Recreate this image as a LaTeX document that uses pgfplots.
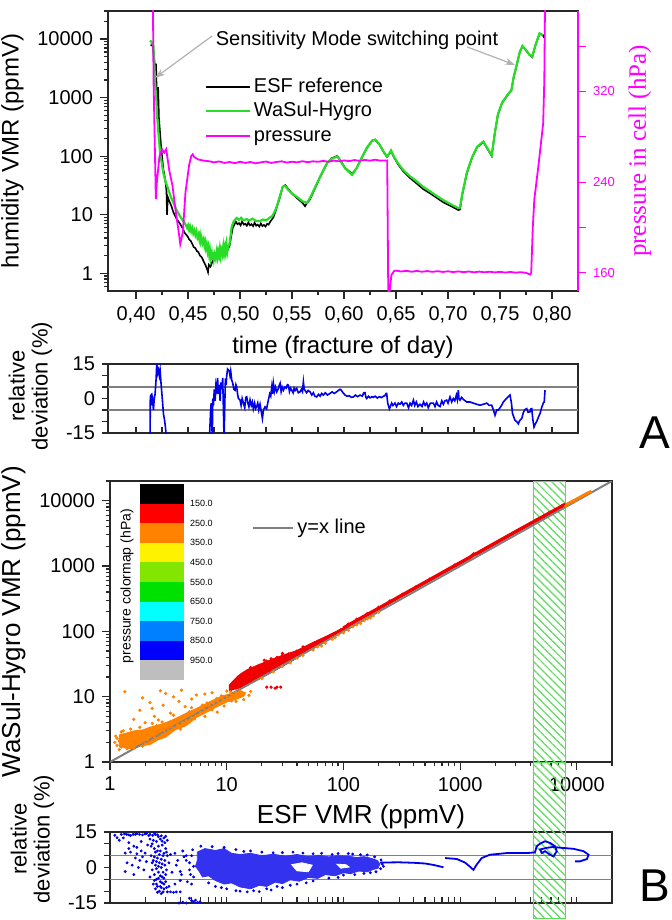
\documentclass[border=0pt]{standalone}
\usepackage{fontspec}
\setmainfont{Liberation Sans}
\newfontfamily\seriffont{Liberation Serif}
\usepackage{pgfplots}
\pgfplotsset{compat=1.18}
\usetikzlibrary{arrows.meta,patterns.meta}
\definecolor{wgreen}{RGB}{40,220,40}
\definecolor{pmag}{RGB}{255,0,255}
\definecolor{dblue}{RGB}{0,0,235}
\definecolor{sorange}{RGB}{255,130,0}
\definecolor{sred}{RGB}{240,0,0}
\definecolor{hgreen}{RGB}{90,220,90}
\definecolor{frame}{RGB}{40,40,40}
\definecolor{cbyg}{RGB}{130,230,0}
\definecolor{cbg}{RGB}{0,225,0}
\definecolor{cbc}{RGB}{0,255,255}
\definecolor{cblb}{RGB}{0,128,255}
\definecolor{cbb}{RGB}{0,0,255}
\definecolor{cbgr}{RGB}{190,190,190}
\pgfplotsset{
  every axis/.append style={
    scale only axis,
    axis line style={frame, line width=0.7pt},
    /pgf/number format/assume math mode=true,
    tick label style={font=\fontsize{10}{12}\selectfont},
    major tick length=4pt, minor tick length=2pt,
    tick style={frame, line width=0.6pt},
  },
}
\begin{document}
\begin{tikzpicture}
\path[use as bounding box] (0,0) rectangle (335.5pt,-460pt);

%================ A: time series =================
\begin{axis}[
  at={(54pt,-5.5pt)}, anchor=north west, width=235pt, height=140pt,
  xmin=0.373, xmax=0.825, ymode=log, ymin=0.5, ymax=30000,
  xtick={0.40,0.45,0.50,0.55,0.60,0.65,0.70,0.75,0.80}, minor x tick num=1,
  xticklabel={\pgfmathprintnumber[fixed,fixed zerofill,precision=2,use comma]{\tick}},
  ytick={1,10,100,1000,10000}, yticklabels={1,10,100,1000,10000},
  minor ytick={0.6,0.7,0.8,0.9,2,3,4,5,6,7,8,9,20,30,40,50,60,70,80,90,200,300,400,500,600,700,800,900,2000,3000,4000,5000,6000,7000,8000,9000,20000,30000},
  tick align=outside, xtick pos=bottom, ytick pos=left,
  xlabel={time (fracture of day)}, ylabel={humidity VMR (ppmV)},
  label style={font=\fontsize{12}{14}\selectfont},
  legend style={draw=none, fill=none, at={(0.205,0.775)}, anchor=north west, inner sep=0pt,
    font=\fontsize{10}{12}\selectfont, row sep=0pt,
    nodes={inner sep=1.5pt, text height=7.3pt, text depth=2pt}},
  legend image code/.code={\draw[#1] (0pt,0pt) -- (22pt,0pt);},
  legend cell align=left,
]
\addplot[black, line width=0.8pt] coordinates {
(0.4140,8000)(0.4160,7600)(0.4175,4500)(0.4185,2600)(0.4192,3800)(0.4200,900)(0.4206,500)(0.4212,1500)(0.4220,450)(0.4240,150)(0.4262,60)(0.4280,40)(0.4292,26)(0.4298,10)(0.4305,20)(0.4320,17)(0.4340,14)(0.4359,11)(0.4390,8.5)(0.4423,7)
(0.4450,5.8)(0.4465,5.0)(0.4480,4.6)(0.4495,4.3)(0.4510,3.8)(0.4525,3.6)(0.4540,3.2)(0.4555,2.8)(0.4570,2.7)(0.4585,2.4)(0.4600,2.3)(0.4615,2.0)(0.4630,1.9)(0.4650,1.6)(0.4670,1.35)(0.4685,1.15)(0.4692,1.05)(0.4700,1.4)(0.4715,1.3)(0.4735,1.6)(0.4760,1.8)(0.4790,1.9)(0.4820,2.1)(0.4850,2.2)(0.4880,2.5)(0.4900,3.0)(0.4915,4.3)(0.4930,6.0)(0.4960,7.6)(0.4975,6.9)(0.4990,7.2)(0.5005,6.6)(0.5020,7.7)(0.5035,6.8)(0.5050,7.0)(0.5065,6.5)(0.5080,7.4)(0.5095,6.6)(0.5110,6.9)(0.5125,6.4)(0.5140,7.3)(0.5155,6.5)(0.5170,6.8)(0.5185,6.3)(0.5200,7.1)(0.5215,6.4)(0.5230,6.7)(0.5245,6.3)(0.5260,7.0)(0.5275,6.8)(0.5290,7.6)(0.5320,9.0)(0.5345,12)
(0.5380,19)(0.5410,30)(0.5435,32)(0.5460,28)(0.5500,23)(0.5550,19)(0.5600,16)(0.5625,14)(0.5640,15.5)(0.5670,18)(0.5720,28)(0.5770,44)(0.5837,76)(0.5880,92)(0.5935,101)(0.5970,82)(0.6010,63)(0.6077,50)(0.6120,62)(0.6170,93)(0.6220,138)(0.6270,182)(0.6300,190)(0.6340,158)(0.6380,118)(0.6413,97)(0.6440,112)(0.6452,122)(0.6480,96)(0.6520,72)(0.6570,55)(0.6630,43)(0.6700,34)(0.6760,27.5)(0.6830,23)(0.6890,19.5)(0.6950,16.5)(0.7030,14)(0.7100,12)(0.7115,12.3)
(0.7135,21)(0.7160,34)(0.7180,50)(0.7230,93)(0.7280,142)(0.7340,174)(0.7380,132)(0.7420,101)(0.7450,245)(0.7480,510)(0.7520,810)(0.7570,1080)(0.7610,1330)(0.7630,2150)(0.7660,3550)(0.7690,5900)(0.7715,7500)(0.7740,6700)(0.7780,5400)(0.7810,4900)(0.7840,7700)(0.7880,12300)(0.7910,11800)(0.7925,10500)
};
\addlegendentry{ESF reference}
\addplot[wgreen, line width=1.1pt] coordinates {
(0.4135,9500)(0.4150,8700)(0.4166,7800)(0.4175,4000)(0.4183,1800)(0.4195,900)(0.4205,420)(0.4215,250)(0.4231,113)(0.4245,80)(0.4263,51)(0.4285,36)(0.4311,27)(0.4335,20)(0.4359,16)(0.4390,12)(0.4423,9.4)(0.4450,8.0)(0.4470,7.2)(0.4490,6.0)
(0.4500,6.6)(0.4510,5.5)(0.4519,6.3)(0.4530,5.2)(0.4540,5.9)(0.4550,4.8)(0.4560,5.4)(0.4570,4.5)(0.4580,5.2)(0.4590,4.1)(0.4600,4.6)(0.4608,3.8)(0.4615,4.5)(0.4623,3.5)(0.4630,4.0)(0.4640,3.3)(0.4650,3.8)(0.4658,3.0)(0.4665,3.4)(0.4672,2.7)(0.4680,3.1)(0.4688,2.4)(0.4695,2.8)(0.4703,2.1)(0.4710,2.5)(0.4718,1.8)(0.4728,2.2)(0.4734,1.7)(0.4740,2.3)(0.4748,1.75)(0.4755,2.1)(0.4765,1.8)(0.4776,2.4)(0.4783,1.9)(0.4790,2.3)(0.4797,2.0)(0.4805,2.6)(0.4812,2.0)(0.4820,2.5)(0.4830,2.1)(0.4839,2.9)(0.4847,2.2)(0.4855,2.8)(0.4862,2.3)(0.4870,3.1)(0.4878,2.4)(0.4885,2.9)(0.4897,3.1)(0.4910,4.5)(0.4920,6.3)(0.4940,7.8)(0.4968,8.8)(0.4990,8.2)(0.5010,8.9)(0.5030,8.1)(0.5064,8.4)(0.5090,8.0)(0.5120,8.6)(0.5150,7.9)(0.5192,7.8)(0.5220,8.3)(0.5250,8.0)(0.5288,9.0)(0.5310,9.5)(0.5335,11.5)(0.5353,13.9)
(0.5380,20)(0.5410,30)(0.5435,31)(0.5460,27)(0.5500,23)(0.5550,20)(0.5600,17)(0.5644,16)(0.5670,19)(0.5720,29)(0.5770,45)(0.5837,77)(0.5880,90)(0.5935,99)(0.5970,80)(0.6010,62)(0.6077,48)(0.6120,62)(0.6170,95)(0.6220,140)(0.6270,185)(0.6300,192)(0.6340,160)(0.6380,120)(0.6413,99)(0.6440,115)(0.6452,125)(0.6480,98)(0.6520,75)(0.6570,58)(0.6630,46)(0.6700,37)(0.6760,30)(0.6830,25)(0.6890,21)(0.6950,18)(0.7030,15)(0.7100,13)(0.7115,13.2)
(0.7135,22)(0.7160,35)(0.7180,52)(0.7230,95)(0.7280,145)(0.7340,178)(0.7380,135)(0.7420,103)(0.7450,250)(0.7480,520)(0.7520,820)(0.7570,1100)(0.7610,1350)(0.7630,2200)(0.7660,3600)(0.7690,6000)(0.7715,7600)(0.7740,6800)(0.7780,5500)(0.7810,5000)(0.7840,7800)(0.7880,12500)(0.7910,11500)
};
\addlegendentry{WaSul-Hygro}
\addlegendimage{pmag, line width=0.9pt}
\addlegendentry{pressure}
\node[font=\fontsize{10}{12}\selectfont] at (axis cs:0.6125,9620) {Sensitivity Mode switching point};
\draw[black!30, line width=0.6pt, -{Stealth[length=5pt,width=3.5pt]}] (axis cs:0.4731,11250) -- (axis cs:0.4183,2170);
\draw[black!30, line width=0.6pt, -{Stealth[length=5pt,width=3.5pt]}] (axis cs:0.7183,7310) -- (axis cs:0.7644,3610);
\end{axis}

\begin{axis}[
  at={(54pt,-5.5pt)}, anchor=north west, width=235pt, height=140pt,
  xmin=0.373, xmax=0.825, ymin=144, ymax=391,
  axis x line=none, axis y line*=right,
  ytick={160,200,240,280,320,360}, yticklabels={160,{},240,{},320,{}},
  y axis line style={pmag, line width=0.7pt}, ytick style={pmag},
  yticklabel style={pmag, font=\fontsize{6.5}{8}\selectfont},
  tick align=outside,
  ylabel={\seriffont pressure in cell (hPa)},
  ylabel style={pmag, font=\fontsize{12.5}{14}\selectfont},
]
\addplot[pmag, line width=0.9pt] coordinates {
(0.4160,420)(0.4168,330)(0.4190,225)(0.4200,240)(0.4225,263)(0.4250,269)(0.4270,266)(0.4290,269)(0.4320,250)(0.4350,237)(0.4380,215)(0.4410,196)(0.4425,185.5)(0.4450,196)(0.4475,231)(0.4510,255)(0.4530,263)(0.4545,264.6)(0.4560,262)(0.4600,260)
(0.4650,259)(0.4700,258.5)(0.4750,257.5)(0.4800,258.3)(0.4850,257)(0.4900,257.8)(0.4950,256.8)(0.5000,258)(0.5050,257)(0.5100,257.8)(0.5150,256.6)(0.5200,257.5)(0.5250,258.2)(0.5300,257)(0.5350,257.8)(0.5400,258.4)(0.5450,257.3)(0.5500,258)(0.5550,257.5)(0.5600,258.5)(0.5650,257.6)(0.5700,258.4)(0.5750,258)(0.5800,258.8)(0.5850,258)(0.5900,259)(0.5950,258.4)(0.6000,259.2)(0.6050,258.6)(0.6100,259.5)(0.6150,258.8)(0.6200,259.6)(0.6250,259)(0.6300,259.8)(0.6350,259)(0.6415,259.2)
(0.6425,146)(0.6432,138)(0.6455,158)(0.6480,161.5)(0.6500,162)(0.6550,161.2)(0.6600,161.8)(0.6650,161)(0.6700,161.7)(0.6750,161)(0.6800,161.6)(0.6850,160.9)(0.6900,161.5)(0.6950,160.8)(0.7000,161.4)(0.7050,160.7)(0.7100,161.3)(0.7150,160.6)(0.7200,161.2)(0.7250,160.5)(0.7300,161.1)(0.7350,160.5)(0.7400,161)(0.7450,160.4)(0.7500,160.9)(0.7550,160.3)(0.7600,160.8)(0.7650,160.2)(0.7700,160.6)(0.7750,160)(0.7790,158.5)
(0.7800,160)(0.7815,200)(0.7830,225)(0.7870,255)(0.7915,292)(0.7926,330)(0.7935,420)
};
\end{axis}

%================ A: relative deviation =================
\begin{axis}[
  at={(54pt,-182pt)}, anchor=north west, width=235pt, height=34.5pt,
  xmin=0.373, xmax=0.825, ymin=-15, ymax=15,
  xtick={0.40,0.45,0.50,0.55,0.60,0.65,0.70,0.75,0.80}, xticklabels={}, minor x tick num=1,
  ytick={-15,0,15}, minor ytick={-10,-5,5,10},
  xtick align=inside, ytick align=outside,
  major tick length=3pt, minor tick length=3pt,
  xtick pos=bottom, ytick pos=left,
  ylabel={relative\\deviation (\%)},
  ylabel style={align=center, font=\fontsize{11}{11.5}\selectfont, at={(ticklabel cs:0.68)}},
]
\addplot[gray, line width=0.6pt] coordinates {(0.373,5)(0.825,5)};
\addplot[gray, line width=0.6pt] coordinates {(0.373,-5)(0.825,-5)};
\addplot[dblue, line width=0.8pt] coordinates {
(0.4130,-20)(0.4135,-15)(0.4137,1)(0.4145,1.5)(0.4151,-3)(0.4158,-0.5)(0.4167,-5)(0.4175,0)(0.4183,2)(0.4192,8)(0.4199,15)(0.4207,11)(0.4215,12.4)(0.4223,10)(0.4231,12.4)(0.4240,6.6)(0.4252,0)(0.4263,-6.5)(0.4276,-10)(0.4288,-15)(0.4292,-20)
};
\addplot[dblue, line width=0.8pt] coordinates {
(0.4705,-18)(0.4716,-6)(0.4722,-2)(0.4728,-12)(0.4733,-16)(0.4738,0)(0.4744,-3)(0.4752,4)(0.4760,-1)(0.4768,6)(0.4776,4)(0.4784,9)(0.4791,2)(0.4800,6)(0.4808,-1)(0.4817,7)(0.4825,4)(0.4833,9)(0.4840,-5)(0.4846,-18)(0.4852,-5)(0.4859,8.7)(0.4866,6)(0.4872,10)(0.4880,12.8)(0.4888,12.4)(0.4896,12)(0.4903,10)(0.4910,12)(0.4920,8)(0.4930,6.6)(0.4940,4)(0.4952,3.6)(0.4960,6)(0.4968,5)(0.4976,2)(0.4984,0)(0.5000,-0.7)(0.5010,-3)(0.5020,0)(0.5032,-2)(0.5045,-4)(0.5055,0.5)(0.5064,0.7)(0.5075,-2)(0.5085,-3.6)(0.5096,-0.6)(0.5108,-3)(0.5118,-1.5)(0.5128,-4.5)(0.5140,-2)(0.5150,-4.4)(0.5160,-3.5)(0.5170,-2)(0.5180,-5)(0.5192,-2.5)(0.5205,-6)(0.5215,-8.7)(0.5225,-5)(0.5240,-3.6)(0.5255,-4.5)(0.5272,-0.7)(0.5285,2)(0.5295,1)(0.5305,5)(0.5312,2)(0.5320,6.6)(0.5330,3)(0.5340,5)(0.5353,2.9)(0.5365,4)(0.5375,5.5)(0.5385,6.6)(0.5395,3)(0.5405,5)(0.5417,3.6)(0.5430,5)(0.5445,4.5)(0.5455,6)(0.5465,5.8)(0.5475,3)(0.5485,4.5)(0.5497,3.6)(0.5510,2.5)(0.5520,4.5)(0.5530,3.5)(0.5545,4.4)(0.5560,2.5)(0.5577,2.9)(0.5590,4)(0.5600,3)(0.5609,7.3)(0.5617,4)(0.5625,3.6)(0.5640,2.5)(0.5655,3.5)(0.5673,2.9)(0.5690,1.5)(0.5705,2.5)(0.5720,1)(0.5737,0.7)(0.5755,1.8)(0.5770,1)(0.5785,2.2)(0.5801,1.5)(0.5820,2.5)(0.5840,1.5)(0.5865,2.2)(0.5885,2.9)(0.5905,2.2)(0.5929,2.9)(0.5945,3.5)(0.5962,4)(0.5975,3.5)(0.5990,2.5)(0.6010,1.5)(0.6030,1)(0.6050,1.2)(0.6070,0.5)(0.6090,0.7)(0.6110,1.5)(0.6130,0.8)(0.6154,1.5)(0.6175,1)(0.6190,2.5)(0.6202,2.5)(0.6210,0.5)(0.6218,0)(0.6235,1)(0.6250,0.3)(0.6270,0.8)(0.6282,0.5)(0.6300,1)(0.6320,0.2)(0.6340,0.8)(0.6360,0.4)(0.6378,1)(0.6392,1.2)(0.6405,2.2)(0.6410,2.2)(0.6420,-2)(0.6436,-4.5)(0.6445,-3.5)(0.6458,-2)(0.6470,-3)(0.6490,-2)(0.6505,-3.5)(0.6522,-2)(0.6538,-2.5)(0.6555,-1.5)(0.6570,-3)(0.6585,-2)(0.6603,-2)(0.6620,-4)(0.6635,-2)(0.6650,-3)(0.6667,-0.7)(0.6680,-3)(0.6695,-1.5)(0.6710,-3.5)(0.6731,-2.5)(0.6750,-3.5)(0.6765,-1.5)(0.6780,-3)(0.6795,-2)(0.6810,-4)(0.6830,-2)(0.6859,-2)(0.6875,-3.5)(0.6890,-1.5)(0.6905,-3)(0.6923,-3.5)(0.6940,-1)(0.6955,-2.5)(0.6970,-1)(0.6987,-0.7)(0.7000,-2)(0.7019,0.7)(0.7035,-1.5)(0.7051,0)(0.7065,-1)(0.7080,1.5)(0.7090,-0.5)(0.7099,3.6)(0.7105,0)(0.7115,-0.7)(0.7130,0.5)(0.7150,-0.5)(0.7180,-1.5)(0.7210,-1.5)(0.7243,-2)(0.7275,-2.5)(0.7308,-2.9)(0.7340,-2.5)(0.7372,-2)(0.7395,-3)(0.7420,-2.9)(0.7440,-5.5)(0.7452,-7.3)(0.7468,-5)(0.7484,-5)(0.7500,-4)(0.7516,-2.9)(0.7532,-1.5)(0.7548,-0.7)(0.7572,0.5)(0.7596,1.5)(0.7610,-2)(0.7620,-6.5)(0.7644,-9.5)(0.7660,-10)(0.7676,-11)(0.7690,-9.5)(0.7709,-8.7)(0.7725,-6)(0.7740,-4.8)(0.7757,-4.4)(0.7770,-6)(0.7788,-5.8)(0.7797,-4.5)(0.7805,-4.4)(0.7815,-9)(0.7827,-12.4)(0.7840,-11)(0.7853,-10)(0.7870,-8)(0.7885,-6.5)(0.7900,-4)(0.7916,-2)(0.7925,-1.5)(0.7933,3.6)
};
\end{axis}
\node[font=\fontsize{23}{26}\selectfont] at (327.5pt,-216.5pt) {A};

%================ B: scatter =================
\begin{axis}[
  at={(55pt,-240.5pt)}, anchor=north west, width=251pt, height=140.5pt,
  xmode=log, ymode=log, xmin=1, xmax=20000, ymin=1, ymax=20000,
  xtick={1,10,100,1000,10000}, xticklabels={1,10,100,1000,10000},
  ytick={1,10,100,1000,10000}, yticklabels={1,10,100,1000,10000},
  minor xtick={2,3,4,5,6,7,8,9,20,30,40,50,60,70,80,90,200,300,400,500,600,700,800,900,2000,3000,4000,5000,6000,7000,8000,9000,20000},
  minor ytick={2,3,4,5,6,7,8,9,20,30,40,50,60,70,80,90,200,300,400,500,600,700,800,900,2000,3000,4000,5000,6000,7000,8000,9000,20000},
  tick align=outside, xtick pos=bottom, ytick pos=left,
  xlabel={ESF VMR (ppmV)}, ylabel={WaSul-Hygro VMR (ppmV)},
  label style={font=\fontsize{13}{15}\selectfont},
  legend style={draw=none, fill=none, at={(0.283,0.833)}, anchor=west, inner sep=0pt,
    font=\fontsize{10}{12}\selectfont, nodes={inner sep=1.5pt}},
  legend image code/.code={\draw[#1] (0pt,0pt) -- (20pt,0pt);},
]
\addplot[draw=hgreen, line width=0.4pt, pattern={Lines[angle=-45,distance=2.8pt,line width=0.6pt]}, pattern color=hgreen, forget plot]
  coordinates {(4200,1)(4200,20000)(8000,20000)(8000,1)} -- cycle;
% orange dense cloud
\addplot[fill=sorange, draw=sorange, forget plot] coordinates {
(1.2,1.7)(1.5,1.6)(1.8,1.75)(2.2,1.85)(2.6,2.2)(3,2.4)(3.6,3.1)(4.5,3.6)(5.5,4.8)(7,6)(8.5,7.2)(10,8.3)(12,9.1)(14,10.2)(14.5,11.5)(13,12.4)(11,11.2)(9,10.2)(7,8.2)(5.5,6.6)(4.5,5.6)(3.6,4.6)(3,4)(2.6,3.7)(2.2,3.4)(1.9,3.1)(1.6,3.0)(1.4,2.8)(1.2,2.6)} -- cycle;
\addplot[only marks, mark=*, mark size=0.6pt, sorange, forget plot] coordinates {
(1.15,1.8)(1.2,2.1)(1.25,1.7)(1.3,2.4)(1.3,1.9)(1.35,2.2)(1.4,1.8)(1.45,2.6)(1.5,2.0)(1.5,2.3)(1.55,1.7)(1.6,2.5)(1.65,2.1)(1.7,1.9)(1.7,2.8)(1.75,2.3)(1.8,2.0)(1.85,2.6)(1.9,2.2)(1.95,3.0)(2.0,2.4)(2.0,1.9)(2.1,2.7)(2.1,2.2)(2.2,3.3)(2.2,2.5)(2.3,2.1)(2.3,2.8)(2.4,3.1)(2.4,2.4)(2.5,2.7)(2.5,3.6)(2.6,2.3)(2.7,3.0)(2.8,2.6)(2.8,3.4)(2.9,3.0)(3.0,2.7)(3.1,3.3)(3.2,3.0)(1.2,1.55)(1.4,1.6)(1.6,1.65)(1.9,1.75)(2.6,4.4)(2.0,4.0)(1.15,2.3)(1.3,3.0)(1.8,3.4)(1.1,2.0)(1.12,2.5)(1.25,2.9)(1.5,3.2)(2.3,3.9)(2.8,4.1)
(3.3,3.5)(3.4,4.0)(3.5,3.3)(3.7,4.3)(3.8,3.7)(4.0,4.6)(4.2,4.0)(4.4,4.9)(4.5,4.3)(4.7,5.4)(5.0,4.8)(5.2,5.6)(5.5,5.1)(5.7,6.2)(6.0,5.7)(6.3,6.6)(6.6,6.1)(7.0,7.3)(7.3,6.7)(7.7,7.9)(8.0,7.2)(8.4,8.5)(8.8,7.9)(9.2,9.2)(9.6,8.6)(10,10)(10.5,9.3)(11,10.8)(11.5,10.1)(12,11.5)(12.5,10.8)(13,12.2)(13.5,11.6)(14,11.0)(4.8,5.9)(5.3,4.6)(6.8,8.0)(7.5,6.3)(9.0,10.3)(10.8,11.8)(6.2,7.4)(8.2,9.4)(8.3,5.8)(9.5,7.2)(12,8.5)(14,9)(6.5,5.0)(4,3.2)(5,6.8)(3.5,5.2)(10,12.2)(11,8.6)(15.5,10.5)(16,12)
(1.34,11.9)(2.7,12.3)(4.1,12.6)(5.5,10.6)(2.2,8.1)(2.85,7.4)(3.5,9.9)(3.3,5.6)(1.8,6.2)(4.4,7.0)(1.6,4.5)(2.4,5.0)(3.9,8.5)(6.5,11)(5,9.2)(7.5,11.5)(1.9,9.6)(3.0,11.2)(2.3,6.6)
(20,19)(25,24)(30,29)(35,33)(40,39)(45,43)(55,52)(60,58)(70,66)(80,76)(90,88)(100,95)(110,104)(120,118)(130,126)(150,146)(160,155)(180,172)(200,196)(65,60)(85,80)(140,133)(170,160)
(8000,8300)(8500,8900)(9000,9500)(9500,9900)(10000,10500)(10500,11000)(11000,11600)(11500,12000)(12000,12700)(12500,13000)(13000,13500)
};
\addplot[orange!90!red, line width=1.4pt, forget plot] coordinates {(7800,8400)(13200,13900)};
% red cloud
\addplot[fill=sred, draw=sred, forget plot] coordinates {
(10.5,12.5)(14,14)(20,19.5)(30,29)(40,39)(55,55)(70,71)(90,92)(110,113)(110,124)(90,103)(70,83)(55,68)(40,51)(30,43)(25,38)(18,30)(15,26)(13,22)(11.5,18)(10.5,15)} -- cycle;
\addplot[only marks, mark=*, mark size=0.6pt, sred, forget plot] coordinates {
(11,13)(11.5,15)(12,17)(12,13.5)(12.5,20)(13,14.5)(13,16.5)(13.5,22)(14,15.5)(14,18)(14.5,21)(15,16.5)(15,24)(15.5,19)(16,17.5)(16,22)(16.5,26)(17,19)(17,24)(17.5,21)(18,28)(18,20)(19,23)(19,30)(20,22)(20,26)(21,32)(21,24)(22,27)(22,35)(23,25)(23,30)(24,38)(24,28)(25,32)(26,29)(26,36)(27,40)(28,31)(28,35)(30,38)(30,43)(32,36)(32,40)(34,45)(35,39)(36,42)(38,47)(40,44)(40,50)(42,48)(44,52)(46,51)(48,55)(50,56)(52,60)(55,61)(58,66)(60,66)(63,71)(66,73)(70,78)(74,82)(78,87)(82,92)(86,95)(90,100)(95,106)(100,110)(16,28)(21,36)(30,46)(45,58)
(22,14)(24,14)(27,14)(26,13.5)(29,14)
};
\addplot[sred, line width=1.8pt, forget plot] coordinates {
(100,112)(120,135)(150,169)(180,202)(220,247)(260,292)(300,337)(350,393)(400,449)(500,561)(600,673)(700,785)(800,897)(1000,1120)(1200,1340)(1300,1480)(1400,1560)(1500,1680)(2000,2240)(2500,2800)(3000,3360)(3500,3910)(4000,4460)(5000,5550)(6000,6640)(7000,7720)(8000,8800)
};
\addplot[only marks, mark=*, mark size=0.7pt, sred, forget plot] coordinates {
(110,128)(130,152)(160,185)(200,232)(250,290)(320,368)(420,480)(550,625)(900,1030)(1300,1520)(4500,5050)(5200,5800)(5800,6500)(6500,7300)(7500,8400)
};
\addplot[gray, line width=1pt] coordinates {(1,1)(20000,20000)};
\addlegendentry{y=x line}
% colour legend
\fill[black] (rel axis cs:0.0598,0.9893) rectangle (rel axis cs:0.1474,0.9196);
\fill[red]   (rel axis cs:0.0598,0.9196) rectangle (rel axis cs:0.1474,0.8498);
\fill[sorange] (rel axis cs:0.0598,0.8498) rectangle (rel axis cs:0.1474,0.7801);
\fill[yellow] (rel axis cs:0.0598,0.7801) rectangle (rel axis cs:0.1474,0.7103);
\fill[cbyg]  (rel axis cs:0.0598,0.7103) rectangle (rel axis cs:0.1474,0.6406);
\fill[cbg]   (rel axis cs:0.0598,0.6406) rectangle (rel axis cs:0.1474,0.5708);
\fill[cbc]   (rel axis cs:0.0598,0.5708) rectangle (rel axis cs:0.1474,0.5011);
\fill[cblb]  (rel axis cs:0.0598,0.5011) rectangle (rel axis cs:0.1474,0.4313);
\fill[cbb]   (rel axis cs:0.0598,0.4313) rectangle (rel axis cs:0.1474,0.3616);
\fill[cbgr]  (rel axis cs:0.0598,0.3616) rectangle (rel axis cs:0.1474,0.2918);
\node[anchor=west, inner sep=0pt, font=\fontsize{4.5}{5}\selectfont] at (rel axis cs:0.159,0.9196) {150.0};
\node[anchor=west, inner sep=0pt, font=\fontsize{4.5}{5}\selectfont] at (rel axis cs:0.159,0.8498) {250.0};
\node[anchor=west, inner sep=0pt, font=\fontsize{4.5}{5}\selectfont] at (rel axis cs:0.159,0.7801) {350.0};
\node[anchor=west, inner sep=0pt, font=\fontsize{4.5}{5}\selectfont] at (rel axis cs:0.159,0.7103) {450.0};
\node[anchor=west, inner sep=0pt, font=\fontsize{4.5}{5}\selectfont] at (rel axis cs:0.159,0.6406) {550.0};
\node[anchor=west, inner sep=0pt, font=\fontsize{4.5}{5}\selectfont] at (rel axis cs:0.159,0.5708) {650.0};
\node[anchor=west, inner sep=0pt, font=\fontsize{4.5}{5}\selectfont] at (rel axis cs:0.159,0.5011) {750.0};
\node[anchor=west, inner sep=0pt, font=\fontsize{4.5}{5}\selectfont] at (rel axis cs:0.159,0.4313) {850.0};
\node[anchor=west, inner sep=0pt, font=\fontsize{4.5}{5}\selectfont] at (rel axis cs:0.159,0.3616) {950.0};
\node[rotate=90, font=\fontsize{7}{8}\selectfont] at (rel axis cs:0.034,0.626) {pressure colormap (hPa)};
\end{axis}

%================ B: relative deviation =================
\begin{axis}[
  at={(55pt,-416pt)}, anchor=north west, width=251pt, height=35.5pt,
  xmode=log, xmin=1, xmax=20000, ymin=-15, ymax=15, clip=false,
  xtick={1,10,100,1000,10000}, xticklabels={},
  minor xtick={2,3,4,5,6,7,8,9,20,30,40,50,60,70,80,90,200,300,400,500,600,700,800,900,2000,3000,4000,5000,6000,7000,8000,9000,20000},
  ytick={-15,0,15}, minor ytick={-10,-5,5,10},
  xtick align=inside, ytick align=outside,
  major tick length=3pt, minor tick length=3pt,
  xtick pos=bottom, ytick pos=left,
  ylabel={relative\\deviation (\%)},
  ylabel style={align=center, font=\fontsize{11}{11.5}\selectfont, at={(ticklabel cs:0.9)}},
]
\addplot[draw=hgreen, line width=0.4pt, pattern={Lines[angle=-45,distance=2.8pt,line width=0.6pt]}, pattern color=hgreen]
  coordinates {(4200,-21.5)(4200,44.6)(8000,44.6)(8000,-21.5)} -- cycle;
\addplot[gray, line width=0.6pt] coordinates {(1,5)(20000,5)};
\addplot[gray, line width=0.6pt] coordinates {(1,-5)(20000,-5)};
\addplot[fill=dblue!80!white, draw=dblue!80!white] coordinates {
(5.6,6.5)(6.5,8)(8,7.2)(9.5,8)(11,6)(13,5.5)(16,6)(20,5)(25,5.6)(32,4.8)(40,5.5)(50,4.6)(62,5.2)(75,4.5)(90,5)(110,4.8)(130,4.2)(150,4.6)(175,3.8)(195,3)(205,1.5)(198,-0.3)(180,-0.8)(160,-1.8)(135,-1.5)(115,-2.6)(100,-2.2)(85,-3.5)(70,-3)(60,-4.6)(50,-4.2)(42,-5.8)(35,-5.2)(30,-6.8)(26,-6.2)(22,-8)(19,-7.5)(16,-9)(13,-8.2)(11,-6.5)(9.5,-7)(8,-5.5)(7,-3.5)(6.2,-4)(5.8,-1.5)(5.4,0.5)(5.6,3)} -- cycle;
\addplot[fill=white, draw=white] coordinates {(36,1.2)(44,2.0)(54,1.0)(50,-1.8)(40,-1.4)} -- cycle;
\addplot[fill=white, draw=white] coordinates {(88,1.4)(105,1.2)(112,0.2)(95,-0.3)} -- cycle;
\addplot[only marks, mark=*, mark size=0.5pt, dblue] coordinates {
(1.1,13.6)(1.15,12.6)(1.25,14)(1.39,14)(1.5,13.5)(1.58,14)(1.7,14.3)(1.79,14)(1.9,13.8)(2.06,14.4)(2.2,14)(2.32,13.6)(2.45,14)(2.6,13)(2.7,12)(2.8,11.1)(2.9,12.5)(1.3,12.5)(1.2,11.5)(1.45,10.5)(1.6,9)(1.33,14.2)(1.45,13.8)(1.65,14)(2.0,14.2)(2.15,13.5)(2.4,14.6)(2.55,13.8)(2.75,13.4)(3.0,13.2)(3.1,11.5)(2.95,10.5)
(1.35,6.1)(1.5,6.5)(1.7,5.8)(1.85,7)(2.0,6.1)(1.45,8)(1.65,4)(1.8,3)(1.4,2)(1.55,1)(1.35,-1.7)(1.75,0)(1.95,-1)(1.6,-3)(1.9,4.5)(2.05,2.5)(1.7,8.5)(2.1,9.5)(1.85,11)
(2.2,12)(2.3,10)(2.4,8)(2.5,11)(2.6,9)(2.7,7)(2.8,9.5)(2.9,6)(3.0,8)(3.1,5)(2.25,5)(2.35,3)(2.45,1)(2.55,4)(2.65,2)(2.75,0)(2.85,-2)(2.95,1)(3.05,-1)(2.3,-1)(2.4,-3)(2.5,-5)(2.6,-2)(2.7,-6)(2.8,-4)(2.9,-7)(3.0,-3)(2.35,-7)(2.45,-9)(2.55,-8)(2.65,-10)(2.75,-8.5)(2.85,-10.3)(2.5,-0.5)(2.2,-4)
(2.25,9)(2.35,11.5)(2.45,6.5)(2.55,7)(2.65,5.5)(2.75,3.5)(2.85,5)(2.95,3)(3.05,6.5)(2.3,2)(2.4,4.5)(2.5,2.5)(2.6,0.5)(2.7,-3.5)(2.8,1.5)(2.9,-4.5)(3.0,-6)(2.4,-5.5)(2.5,-7)(2.6,-4.5)(2.7,-8)(2.8,-6.5)(2.9,-9)(3.05,-8.5)(2.55,-10.5)(2.75,-11)
(3.1,-10.3)(3.3,-10.3)(3.5,-10.5)(3.7,-10.3)(4.0,-10.3)(3.2,-8)(3.6,-7)(4.0,-5.5)(4.8,-13)(5.0,-14)(5.2,-14.5)(5.4,-13.8)(5.6,-14.8)(5.9,-14.5)(4.5,-15)(4.2,-14.7)(3.9,-15)(4.0,-1.7)
(3.3,5.5)(3.6,6)(3.8,3)(3.4,-2)(3.7,1)(4.2,7)(4.5,5)(4.1,-3)(3.2,2)(4.8,2)(5,5)(5.2,-4)(4.6,-6)(4.5,3)(4.8,-1)(5.1,7.5)(4.3,4.5)(5.2,0.5)(4.9,-3)(5,-7)
(6,9)(7.5,8.8)(9.5,8.5)(12,7.6)(16,7)(20,6.5)(30,6.3)(45,6.1)(65,6)(90,5.9)(120,5.7)(160,5.3)(8,-8)(10,-9)(12,-9.8)(15,-10.3)(19,-10.2)(24,-9.5)(30,-8.5)(40,-7)(55,-5.7)(75,-4.5)(100,-3.2)(150,-2.5)(190,-1.8)(215,1.5)(220,0.5)
(7,-6.5)(9,-8.5)(13,-10)(17,-9.8)(22,-9)(27,-8)(35,-7.5)(48,-6.5)(14,6.8)(25,6.2)(37,6.5)(55,5.8)(80,5.5)(110,5.9)(140,5.4)(185,4.5)(210,3.2)(208,-0.5)(170,-2.2)(125,-3)(90,-4.2)
};
\addplot[dblue, line width=0.9pt] coordinates {
(206,2.1)(300,2.2)(398,2.0)(500,1.7)(590,1.1)(720,0.1)
};
\addplot[dblue, line width=0.9pt] coordinates {
(744,4.0)(935,3.6)(1100,2.1)(1210,0.4)(1300,-1.0)(1380,1.1)(1530,4.0)(1800,5.4)(2500,6.1)(3720,6.1)(4370,6.4)(4530,9.0)(4840,10.1)(5340,11.1)(5890,10.4)(6490,9.0)(6730,6.9)(6300,4.7)(5890,5.4)(5340,6.9)(5000,6.1)(4840,7.6)(5510,8.3)(6300,8.7)(7430,8.3)(9350,7.9)(11400,6.9)(12600,5.4)(12200,3.6)(10600,2.6)(9660,2.6)
};
\end{axis}
\node[font=\fontsize{23}{26}\selectfont] at (327.5pt,-443pt) {B};
\end{tikzpicture}
\end{document}
